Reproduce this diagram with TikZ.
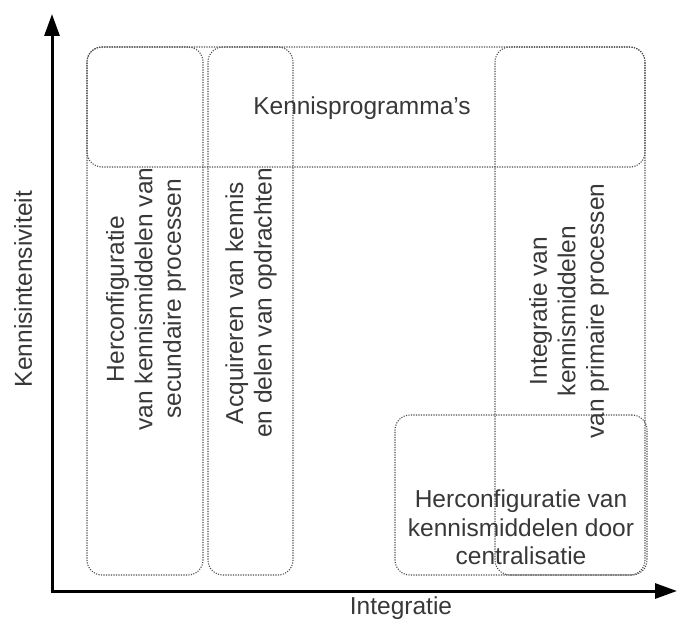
\documentclass[tikz,border=0pt]{standalone}
\usepackage{fontspec}
\setmainfont{Liberation Sans}
\usetikzlibrary{arrows.meta}
\definecolor{dotgray}{HTML}{4A4A4A}
\definecolor{txt}{HTML}{383838}
\tikzset{
  box/.style={draw=dotgray, line width=1.1pt, dash pattern=on 1.1pt off 1.4pt,
    rounded corners=15pt, inner sep=0pt},
  lbl/.style={text=txt, font=\fontsize{24.5}{28.5}\selectfont, align=center, inner sep=0pt},
  axis/.style={line width=3pt, -{Triangle[length=22pt,width=15pt]}}
}
\begin{document}
\begin{tikzpicture}[x=1pt,y=-1pt]
\useasboundingbox (0,0) rectangle (684,623);
% boxes
\node[box, minimum width=558pt, minimum height=120pt] (top) at (366,107) {};
\node[box, minimum width=116pt, minimum height=528pt] (c1) at (145,311) {};
\node[box, minimum width=85pt, minimum height=528pt] (c2) at (250.5,311) {};
\node[box, minimum width=150pt, minimum height=528pt] (c3) at (570,311) {};
\node[box, minimum width=252pt, minimum height=160pt] (bot) at (521,495) {};
% labels
\node[lbl] (ltop) at (362,108) {Kennisprogramma's};
\node[lbl, rotate=90] (l1) at (146,299) {Herconfiguratie\\van kennismiddelen van\\secundaire processen};
\node[lbl, rotate=90] (l2) at (251,303) {Acquireren van kennis\\en delen van opdrachten};
\node[lbl, rotate=90] (l3) at (569,311) {Integratie van\\kennismiddelen\\van primaire processen};
\node[lbl, anchor=south] (lbot) at (521,565) {Herconfiguratie van\\kennismiddelen door\\centralisatie};
% axes
\coordinate (o) at (52,591);
\coordinate (ytip) at (52,14);
\coordinate (xtip) at (677,591);
\draw[axis] ([yshift=-1.5pt]o) -- (ytip);
\draw[axis] ([xshift=-1.5pt]o) -- (xtip);
\node[lbl] (xl) at (401,608) {Integratie};
\node[lbl, rotate=90] (yl) at (23,289) {Kennisintensiviteit};
\end{tikzpicture}
\end{document}
